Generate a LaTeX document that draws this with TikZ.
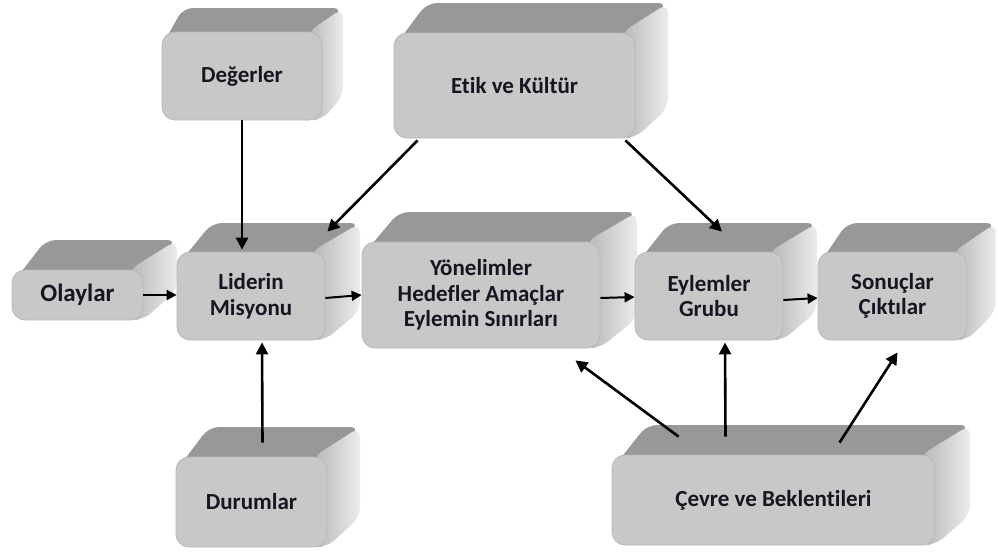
\documentclass[tikz,border=0pt]{standalone}
\usepackage{fontspec}
\setmainfont{Carlito}[Ligatures=NoCommon]
\usetikzlibrary{arrows.meta,calc}

\definecolor{facefront}{RGB}{200,200,200}
\definecolor{faceedge}{RGB}{184,184,184}
\definecolor{facetop}{RGB}{152,152,152}
\definecolor{sideL}{RGB}{182,182,182}
\definecolor{sideR}{RGB}{236,236,236}
\definecolor{inktext}{RGB}{22,22,34}

\tikzset{
  frontface/.style={fill=facefront, draw=faceedge, line width=0.8pt,
    rounded corners=13pt, inner sep=2pt, align=center, text=inktext,
    font=\bfseries\fontsize{23}{25.5}\selectfont},
  arr/.style={line width=2.6pt, -{Triangle[length=12pt,width=12pt]}},
  sarr/.style={line width=2pt, -{Triangle[length=10pt,width=10pt]}},
}

% extruded box: name, x1, y1, x2, y2 (front face, y measured downwards), depth dx, dy, label
\newcommand\cubenode[8]{%
  \fill[facetop, rounded corners=10pt]
    (#2,-#3-14) -- (#2+#6,-#3+#7) -- (#4+#6,-#3+#7) -- (#4,-#3) -- cycle;
  \shade[left color=sideL, right color=sideR, rounded corners=10pt]
    (#4-14,-#3) -- (#4+#6,-#3+#7) -- (#4+#6,-#5+#7) -- (#4,-#5) -- (#4-14,-#5) -- cycle;
  \pgfmathsetmacro\cubew{#4-#2}%
  \pgfmathsetmacro\cubeh{#5-#3}%
  \node[frontface, minimum width=\cubew pt, minimum height=\cubeh pt]
    (#1) at ({(#2+#4)/2},{-(#3+#5)/2}) {#8};
}

\begin{document}
\begin{tikzpicture}[x=1pt,y=1pt]
\useasboundingbox (0,0) rectangle (998,-552);

\cubenode{deger}{162}{32}{322}{120}{21}{24}{Değerler}
\cubenode{etik}{394}{33}{635}{138}{33}{30}{Etik ve Kültür}
\cubenode{olay}{12}{270}{143}{320}{34}{30}{\fontsize{25}{28}\selectfont Olaylar}
\cubenode{lider}{177}{252}{325}{340}{35}{29}{Liderin\\Misyonu}
\cubenode{yon}{362}{242}{600}{348}{37}{30}{Yönelimler\\Hedefler Amaçlar\\Eylemin Sınırları}
\cubenode{eyl}{635}{252}{783}{340}{34}{29}{Eylemler\\Grubu}
\cubenode{son}{818}{252}{967}{340}{29}{29}{Sonuçlar\\Çıktılar}
\cubenode{dur}{176}{457}{327}{547}{33}{30}{Durumlar}
\cubenode{cevre}{612}{455}{935}{545}{35}{30}{Çevre ve Beklentileri}

% influences from above
\draw[arr] (deger.south) -- ([yshift=2pt]deger.south |- lider.north);
\draw[arr] ([shift={(24,-2)}]etik.south west) -- ([shift={(2,20)}]lider.north east);
\draw[arr] ([shift={(-10,-2)}]etik.south east) -- ([shift={(13,20)}]eyl.north);

% main chain
\draw[sarr] (olay.east) -- (lider.west |- olay.east);
\draw[sarr] ([yshift=-2pt]lider.east) -- (yon.west);
\draw[sarr] ([yshift=-3pt]yon.east) -- ([yshift=-1pt]eyl.west);
\draw[sarr] ([yshift=-4pt]eyl.east) -- ([yshift=-2pt]son.west);

% influences from below
\draw[arr] ([shift={(11,14)}]dur.north) -- ([shift={(11,-2)}]lider.south);
\draw[arr] ([shift={(67,18)}]cevre.north west) -- ([shift={(-25,-12)}]yon.south east);
\draw[arr] ([shift={(-48,18)}]cevre.north) -- ([shift={(16,-2)}]eyl.south);
\draw[arr] ([shift={(66,12)}]cevre.north) -- ([shift={(5,-12)}]son.south);
\end{tikzpicture}
\end{document}
